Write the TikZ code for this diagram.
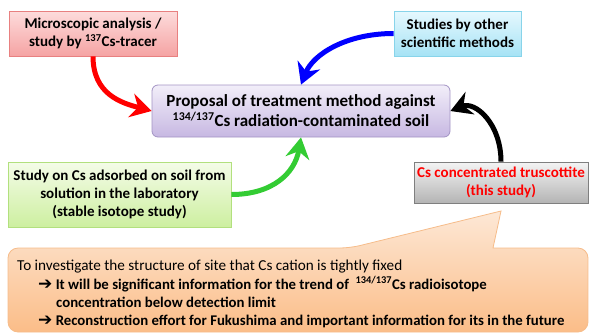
\documentclass[tikz,border=0pt]{standalone}
\usepackage{fontspec}
\setmainfont{Carlito}
\newfontfamily\dv{DejaVu Sans}
\usetikzlibrary{arrows.meta,shadings}
\definecolor{redtop}{HTML}{FDDCDC}
\definecolor{redbot}{HTML}{F5A3A3}
\definecolor{redline}{HTML}{E88080}
\definecolor{bluetop}{HTML}{E6F8FE}
\definecolor{bluebot}{HTML}{A6E3F5}
\definecolor{blueline}{HTML}{88D4EA}
\definecolor{greentop}{HTML}{F4FCE8}
\definecolor{greenbot}{HTML}{CDEFA0}
\definecolor{greenline}{HTML}{B2E07E}
\definecolor{greytop}{HTML}{F4F4F4}
\definecolor{greybot}{HTML}{B4B4B4}
\definecolor{greyline}{HTML}{7F7F7F}
\definecolor{purtop}{HTML}{F2EEF9}
\definecolor{purbot}{HTML}{C7B8E2}
\definecolor{purline}{HTML}{A394C4}
\definecolor{orgtop}{HTML}{FDE8D6}
\definecolor{orgbot}{HTML}{FBBD88}
\definecolor{orgline}{HTML}{F6BC8A}
\definecolor{arrgreen}{HTML}{33CC33}
\newcommand{\myarrow}{{\dv\bfseries\fontsize{17}{17}\selectfont ➔}}
\begin{document}
\begin{tikzpicture}[x=1pt,y=-1pt,
  boxstyle/.style={draw, line width=0.8pt, inner sep=0pt, align=center,
    font=\bfseries\fontsize{15}{18}\selectfont, shading=axis, shading angle=0},
  conn/.style={line width=5pt, -{Stealth[length=21pt,width=24pt,inset=7pt]}},
  calltext/.style={anchor=base west, inner sep=0pt, font=\fontsize{15.2}{17}\selectfont},
  callbold/.style={calltext, font=\bfseries\fontsize{14.8}{17}\selectfont}
]
\useasboundingbox (0,0) rectangle (589,333);

% callout
\path[draw=orgline, line width=0.8pt, top color=orgtop, bottom color=orgbot]
  [rounded corners=10pt] (8,332) -- (8,248) -- (350,248)
  [sharp corners] -- (501,211) -- (493,248)
  [rounded corners=10pt] -- (588,248) -- (588,332) -- cycle;

\node[boxstyle, draw=redline, top color=redtop, bottom color=redbot,
  minimum width=168pt, minimum height=45pt] (micro) at (93,33.5)
  {Microscopic analysis /\\study by \textsuperscript{137}Cs-tracer};
\node[boxstyle, draw=blueline, top color=bluetop, bottom color=bluebot,
  minimum width=127pt, minimum height=45pt] (other) at (457.5,33.5)
  {Studies by other\\scientific methods};
\node[boxstyle, draw=purline, top color=purtop, bottom color=purbot,
  minimum width=298pt, minimum height=52pt, rounded corners=6pt,
  font=\bfseries\fontsize{17}{20}\selectfont] (prop) at (301,111)
  {Proposal of treatment method against\\\textsuperscript{134/137}Cs radiation-contaminated soil};
\node[boxstyle, draw=greenline, top color=greentop, bottom color=greenbot,
  minimum width=223pt, minimum height=65pt] (lab) at (119.5,194.5)
  {Study on Cs adsorbed on soil from\\solution in the laboratory\\(stable isotope study)};
\node[boxstyle, draw=greyline, top color=greytop, bottom color=greybot,
  minimum width=174pt, minimum height=41pt, text=red] (trus) at (501,182.5)
  {Cs concentrated truscottite\\(this study)};

\draw[conn, red] (micro.south) .. controls +(0,38) and +(-30,-8) .. (prop.west);
\draw[conn, blue] (other.west) .. controls +(-48,0) and +(12,-30) .. (prop.north);
\draw[conn, arrgreen] (lab.east) .. controls +(42,0) and +(-6,35) .. (prop.south);
\draw[conn, black] (trus.north) .. controls +(0,-38) and +(25,-10) .. (prop.east);

\node[calltext] (l1) at (17,270) {To investigate the structure of site that Cs cation is tightly fixed};
\node[callbold] (l2) at (38,289) {\myarrow\ It will be significant information for the trend of \ \textsuperscript{134/137}Cs radioisotope};
\node[callbold] (l3) at (56,307) {concentration below detection limit};
\node[callbold] (l4) at (38,325) {\myarrow\ Reconstruction effort for Fukushima and important information for its in the future};
\end{tikzpicture}
\end{document}
